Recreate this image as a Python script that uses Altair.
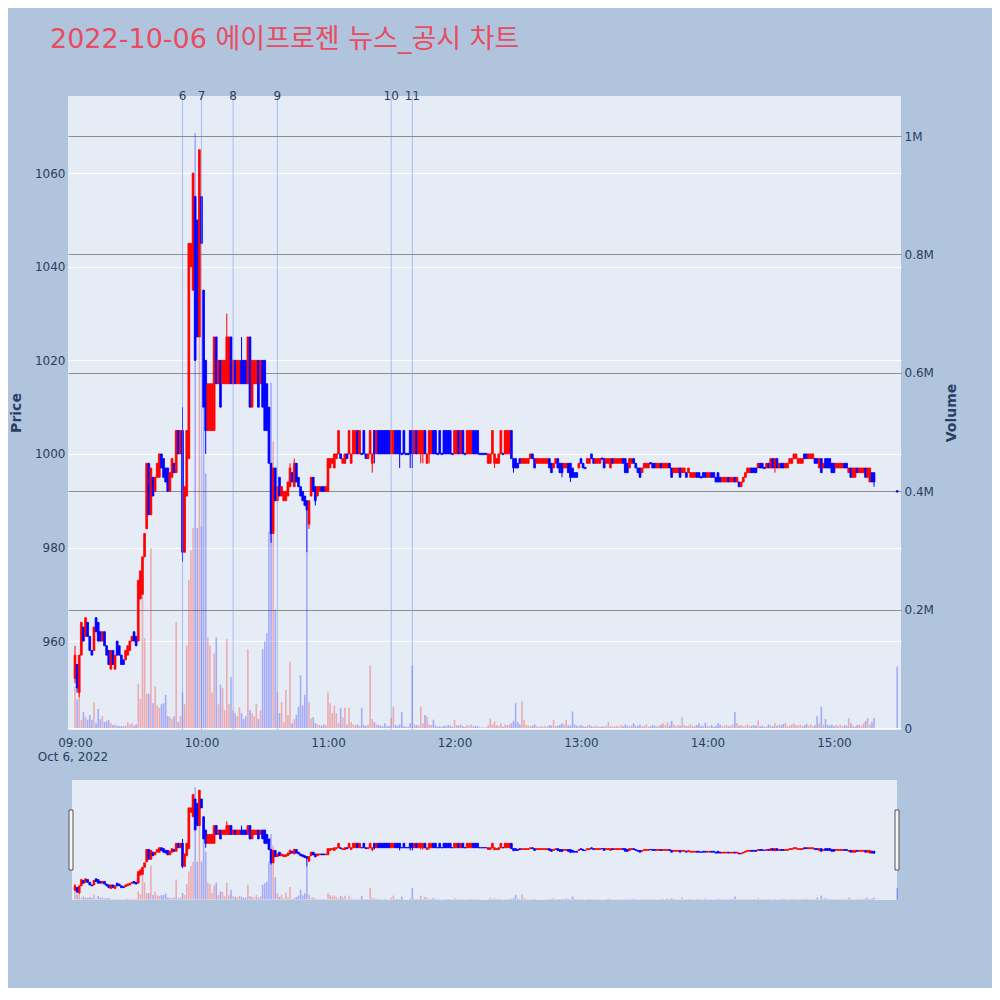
import altair as alt
import pandas as pd

title_text = "2022-10-06 에이프로젠 뉴스_공시 차트"

# minute offsets from 09:00 (15:30 closing auction at 390)
minutes = list(range(380)) + [390]

opens = [
    952, 955, 949, 957, 963, 961, 964, 961, 958, 958,
    965, 964, 962, 960, 962, 959, 958, 954, 958, 954,
    960, 959, 957, 956, 956, 957, 958, 960, 962, 961,
    960, 969, 970, 978, 984, 998, 987, 995, 992, 995,
    995, 1000, 999, 997, 997, 992, 995, 998, 996, 1005,
    1000, 1005, 979, 991, 999, 1040, 1035, 1055, 1050, 1025,
    1055, 1035, 1020, 1005, 1005, 1005, 1005, 1025, 1015, 1020,
    1015, 1015, 1015, 1015, 1025, 1015, 1020, 1015, 1015, 1020,
    1020, 1020, 1015, 1025, 1010, 1015, 1015, 1020, 1015, 1020,
    1020, 1015, 1010, 998, 983, 997, 990, 995, 991, 990,
    990, 991, 993, 996, 993, 998, 995, 993, 992, 991,
    990, 985, 991, 995, 993, 991, 992, 993, 993, 992,
    992, 997, 998, 997, 999, 1000, 1000, 998, 998, 1000,
    1000, 998, 1000, 1000, 1005, 1000, 1000, 1005, 1000, 999,
    1000, 998, 1005, 1000, 1005, 1005, 1005, 1005, 1005, 1005,
    1000, 1000, 1005, 1005, 1005, 1000, 1005, 1000, 1000, 1005,
    1005, 1000, 1005, 1000, 1000, 1000, 1005, 998, 1000, 1000,
    1005, 1005, 1000, 1005, 1000, 1005, 1005, 1005, 1005, 1000,
    1000, 1000, 1005, 1000, 1005, 1000, 1000, 1000, 1000, 1005,
    1005, 1005, 1000, 1000, 1000, 1000, 998, 998, 1000, 998,
    998, 998, 1000, 1000, 1000, 1000, 1000, 1005, 999, 999,
    998, 999, 998, 998, 998, 998, 999, 1000, 999, 998,
    998, 998, 998, 998, 998, 999, 998, 997, 998, 999,
    998, 998, 997, 997, 998, 998, 997, 996, 996, 997,
    999, 998, 997, 998, 998, 1000, 999, 998, 998, 998,
    999, 999, 998, 998, 997, 999, 998, 998, 998, 998,
    999, 999, 998, 997, 998, 999, 998, 997, 997, 996,
    997, 997, 997, 998, 998, 998, 997, 997, 998, 997,
    997, 997, 998, 997, 996, 996, 996, 997, 996, 996,
    996, 996, 995, 995, 995, 996, 996, 995, 996, 996,
    995, 995, 996, 996, 995, 996, 995, 994, 994, 994,
    995, 994, 994, 995, 994, 994, 993, 994, 995, 996,
    996, 997, 997, 997, 997, 998, 998, 997, 997, 998,
    997, 999, 997, 999, 997, 998, 998, 997, 997, 998,
    998, 999, 999, 998, 998, 998, 1000, 1000, 999, 999,
    999, 999, 999, 997, 999, 997, 999, 999, 999, 998,
    998, 997, 997, 997, 997, 998, 998, 996, 997, 995,
    995, 997, 996, 996, 996, 997, 995, 994, 996, 996,
    992,
]

closes = [
    957, 950, 957, 964, 960, 965, 961, 958, 957, 963,
    962, 960, 960, 962, 959, 957, 955, 958, 955, 957,
    957, 957, 955, 955, 958, 959, 960, 961, 960, 959,
    973, 975, 978, 983, 998, 987, 997, 991, 995, 998,
    1000, 997, 995, 994, 992, 996, 999, 996, 1005, 1000,
    1005, 979, 993, 1005, 1045, 1045, 1060, 1020, 1025, 1065,
    1045, 1010, 1005, 1015, 1015, 1015, 1025, 1015, 1020, 1010,
    1020, 1020, 1025, 1025, 1015, 1020, 1015, 1020, 1020, 1015,
    1015, 1015, 1025, 1010, 1020, 1020, 1020, 1010, 1020, 1010,
    1005, 1005, 998, 983, 997, 990, 993, 991, 993, 992,
    992, 994, 997, 994, 998, 994, 993, 991, 990, 989,
    988, 990, 995, 992, 990, 993, 993, 992, 992, 993,
    999, 999, 999, 1000, 1000, 1005, 999, 999, 1000, 999,
    1005, 1000, 1005, 1005, 1000, 1005, 1000, 1000, 999, 1000,
    1005, 1000, 1000, 1005, 1000, 1000, 1000, 1000, 1000, 1000,
    1005, 1005, 1000, 1000, 1000, 1000, 1000, 1000, 1000, 1000,
    1000, 1005, 1000, 1005, 1005, 1005, 1000, 1000, 1005, 1005,
    1000, 1000, 1000, 1000, 1000, 1000, 1000, 1000, 1000, 1000,
    1005, 1005, 1000, 1005, 1000, 1000, 1005, 1005, 1005, 1000,
    1000, 1000, 1000, 1000, 1000, 1000, 1000, 1000, 1005, 1000,
    999, 1000, 1005, 1000, 1005, 1005, 1005, 999, 997, 997,
    997, 998, 999, 999, 999, 999, 1000, 999, 997, 999,
    999, 999, 999, 999, 999, 997, 996, 998, 999, 997,
    996, 996, 998, 998, 996, 995, 995, 995, 995, 998,
    998, 997, 997, 999, 999, 999, 998, 999, 999, 999,
    999, 997, 999, 999, 999, 998, 999, 999, 999, 999,
    998, 996, 996, 999, 999, 998, 997, 996, 995, 997,
    998, 998, 998, 998, 997, 997, 998, 998, 997, 998,
    998, 998, 997, 995, 997, 997, 997, 995, 997, 997,
    995, 997, 996, 996, 996, 995, 995, 995, 995, 995,
    996, 996, 995, 995, 994, 994, 994, 995, 995, 995,
    994, 995, 995, 994, 995, 993, 994, 995, 996, 997,
    997, 996, 996, 996, 998, 997, 997, 997, 998, 997,
    999, 997, 999, 997, 998, 997, 997, 998, 998, 999,
    999, 1000, 1000, 999, 999, 999, 999, 999, 1000, 1000,
    1000, 998, 998, 999, 996, 998, 997, 997, 997, 996,
    996, 998, 998, 998, 998, 997, 997, 997, 995, 997,
    997, 996, 997, 997, 997, 995, 997, 997, 994, 994,
    992,
]

wick_high = {0: 959, 35: 998, 51: 1010, 59: 1065, 72: 1030, 79: 1025,
             102: 998, 104: 999, 198: 1005}
wick_low = {0: 951, 1: 949, 2: 948, 51: 977, 57: 1020, 62: 1000, 93: 981,
            110: 979, 111: 984, 114: 989, 141: 996, 142: 998, 154: 997,
            159: 997, 160: 997, 164: 998, 165: 998, 168: 998, 199: 997,
            208: 996, 231: 995, 235: 994, 305: 994, 315: 993, 316: 993,
            332: 996, 379: 993}

volumes_k = [
    70, 48, 60, 14, 27, 19, 14, 22, 14, 43,
    8, 32, 15, 20, 10, 12, 14, 8, 5, 6,
    4, 3, 3, 3, 4, 10, 6, 8, 4, 6,
    75, 49, 253, 152, 58, 58, 304, 42, 70, 38,
    34, 40, 42, 56, 20, 18, 15, 20, 179, 10,
    20, 60, 40, 139, 250, 300, 338, 1005, 338, 800,
    340, 656, 430, 153, 139, 60, 126, 153, 40, 73,
    67, 30, 150, 40, 86, 30, 25, 20, 35, 25,
    15, 20, 133, 30, 25, 20, 41, 15, 30, 133,
    146, 160, 331, 583, 484, 200, 60, 25, 44, 10,
    64, 22, 112, 8, 15, 22, 36, 89, 38, 56,
    298, 44, 16, 18, 8, 6, 5, 4, 6, 5,
    60, 42, 25, 38, 25, 8, 34, 18, 34, 6,
    34, 10, 6, 5, 6, 4, 34, 5, 4, 6,
    106, 15, 10, 6, 5, 4, 3, 8, 3, 4,
    17, 36, 5, 4, 6, 27, 3, 2, 2, 8,
    106, 6, 5, 4, 36, 8, 22, 19, 6, 5,
    14, 4, 2, 3, 2, 4, 3, 5, 4, 2,
    14, 5, 4, 6, 3, 2, 5, 4, 6, 3,
    4, 3, 1, 1, 1, 1, 5, 16, 6, 11,
    5, 4, 8, 2, 6, 5, 6, 8, 12, 42,
    10, 6, 45, 14, 5, 4, 3, 4, 6, 3,
    2, 3, 2, 4, 3, 5, 4, 14, 3, 4,
    5, 8, 6, 14, 5, 4, 28, 6, 4, 3,
    5, 3, 2, 4, 6, 3, 2, 4, 3, 2,
    3, 2, 4, 10, 3, 2, 3, 4, 2, 5,
    3, 6, 4, 3, 5, 8, 3, 4, 6, 3,
    4, 6, 2, 3, 5, 4, 3, 4, 6, 8,
    5, 10, 4, 12, 6, 3, 5, 4, 18, 5,
    3, 4, 6, 3, 4, 5, 8, 4, 3, 9,
    4, 3, 5, 2, 4, 8, 6, 3, 4, 5,
    3, 4, 6, 27, 8, 4, 5, 3, 4, 6,
    3, 4, 5, 4, 13, 3, 4, 2, 3, 6,
    4, 3, 8, 4, 6, 5, 7, 9, 3, 4,
    6, 8, 5, 4, 6, 3, 5, 7, 4, 6,
    3, 5, 20, 8, 36, 6, 15, 5, 4, 6,
    3, 5, 4, 6, 3, 5, 4, 17, 8, 4,
    3, 5, 6, 4, 8, 12, 17, 6, 10, 17,
    104,
]

news_minutes = [51, 60, 75, 96, 150, 160]
news_labels = ["6", "7", "8", "9", "10", "11"]
price_ticks = [960, 980, 1000, 1020, 1040, 1060]
volume_ticks = [0, 200000, 400000, 600000, 800000, 1000000]
hour_ticks = [0, 60, 120, 180, 240, 300, 360]

assert len(opens) == len(minutes), len(opens)
assert len(closes) == len(minutes), len(closes)
assert len(volumes_k) == len(minutes), len(volumes_k)

rows = []
for i, m in enumerate(minutes):
    o, c = opens[i], closes[i]
    top, bot = max(o, c), min(o, c)
    hi = max(wick_high.get(m, top), top)
    lo = min(wick_low.get(m, bot), bot)
    if top == bot:
        top += 0.15
        bot -= 0.15
    rows.append(dict(m=m, o=o, c=c, h=hi, l=lo, top=top, bot=bot,
                     v=volumes_k[i] * 1000, d="up" if c > o else "down"))
df = pd.DataFrame(rows)
news_df = pd.DataFrame({"m": news_minutes, "label": news_labels})

W, H = 833, 634
FONT = "DejaVu Sans"
TXT = "#2a3f5f"
XS = alt.Scale(domain=[-3.32, 391.8], nice=False, zero=False, padding=0)
PRICE_DOM = [941, 1076.5]
VOL_DOM = [-3378, 1067568]
SL = [804, 684]


def price_scale(slider=False):
    if slider:
        return alt.Scale(domain=PRICE_DOM, nice=False, zero=False, range=SL)
    return alt.Scale(domain=PRICE_DOM, nice=False, zero=False)


def vol_scale(slider=False):
    if slider:
        return alt.Scale(domain=VOL_DOM, nice=False, zero=False, range=SL)
    return alt.Scale(domain=VOL_DOM, nice=False, zero=False)


CANDLE_SCALE = alt.Scale(domain=["up", "down"], range=["#FF0000", "#0000FF"])
col = alt.Color("d:N", scale=CANDLE_SCALE, legend=None)
stk = alt.Stroke("d:N", scale=CANDLE_SCALE, legend=None)

x_axis = alt.Axis(values=hour_ticks, grid=False, title=None, domain=False, ticks=False,
                  labelPadding=7,
                  labelExpr="(datum.value / 60 + 9 < 10 ? '0' : '') + (datum.value / 60 + 9) + ':00'")
price_axis = alt.Axis(orient="left", values=price_ticks, grid=True, gridColor="white", format="d",
                      gridWidth=1, title=None, domain=False, ticks=False, labelPadding=3)
vol_axis = alt.Axis(orient="right", values=volume_ticks, grid=True,
                    gridColor={"condition": {"test": "datum.value === 0", "value": "#ffffff"},
                               "value": "#8c8c8c"},
                    gridWidth=1, title=None, domain=False, ticks=False, labelPadding=3,
                    labelExpr="datum.value === 0 ? '0' : format(datum.value / 1000000, '~g') + 'M'")


def X():
    return alt.X("m:Q", scale=XS, axis=x_axis)


base = alt.Chart(df)

slider_bg = alt.Chart(pd.DataFrame({"a": [0]})).mark_rect(color="#E5ECF6").encode(
    x=alt.value(4), x2=alt.value(829), y=alt.value(684), y2=alt.value(804))


def vol_layer(slider):
    return base.mark_bar(size=1.6, opacity=0.28).encode(
        x=X(),
        y=alt.Y("v:Q", scale=vol_scale(slider), axis=None if slider else vol_axis),
        y2=alt.datum(0),
        color=col)


def wick_layer(slider):
    return base.mark_rule(strokeWidth=1).encode(
        x=X(),
        y=alt.Y("l:Q", scale=price_scale(slider), axis=None),
        y2="h:Q",
        color=col)


def body_layer(slider):
    return base.mark_bar(size=1.8, strokeWidth=0.8).encode(
        x=X(),
        y=alt.Y("bot:Q", scale=price_scale(slider), axis=None if slider else price_axis),
        y2="top:Q",
        color=col,
        stroke=stk)


news_rules = alt.Chart(news_df).mark_rule(color="#6f8ff0", opacity=0.5, strokeWidth=1).encode(
    x=X(), y=alt.value(0), y2=alt.value(H))
news_text = alt.Chart(news_df).mark_text(font=FONT, fontSize=12, color=TXT, baseline="middle").encode(
    x=X(), y=alt.value(0), text="label:N")

one = pd.DataFrame({"a": [0]})
title = alt.Chart(one).mark_text(text=title_text, font="DejaVu Sans, Noto Sans CJK KR",
                                 fontSize=27, color="#E84C60", align="left",
                                 baseline="middle").encode(x=alt.value(-18), y=alt.value(-56))
price_title = alt.Chart(one).mark_text(text="Price", font=FONT, fontSize=14, fontWeight="bold",
                                       color=TXT, angle=270, baseline="middle").encode(
    x=alt.value(-51), y=alt.value(317))
vol_title = alt.Chart(one).mark_text(text="Volume", font=FONT, fontSize=14, fontWeight="bold",
                                     color=TXT, angle=270, baseline="middle").encode(
    x=alt.value(884), y=alt.value(317))
date_text = alt.Chart(one).mark_text(text="Oct 6, 2022", font=FONT, fontSize=12, color=TXT,
                                     baseline="middle").encode(x=alt.value(5), y=alt.value(661))
handle_l = alt.Chart(one).mark_rect(fill="#f4f4f4", stroke="#555555", strokeWidth=1).encode(
    x=alt.value(1), x2=alt.value(5), y=alt.value(714), y2=alt.value(774))
handle_r = alt.Chart(one).mark_rect(fill="#f4f4f4", stroke="#555555", strokeWidth=1).encode(
    x=alt.value(827), x2=alt.value(831), y=alt.value(714), y2=alt.value(774))

chart = alt.layer(
    slider_bg,
    vol_layer(False), vol_layer(True),
    wick_layer(False), body_layer(False),
    wick_layer(True), body_layer(True),
    news_rules, news_text,
    title, price_title, vol_title, date_text, handle_l, handle_r,
).resolve_scale(y="independent").properties(
    width=W, height=H,
    autosize=alt.AutoSizeParams(type="none"),
    padding={"left": 60, "top": 88, "right": 91, "bottom": 258},
    background="#B0C4DE",
).configure_view(fill="#E5ECF6", stroke=None).configure_axis(
    labelFont=FONT, labelFontSize=12, labelColor=TXT)

chart.save("out.html", embed_options={"renderer": "svg", "actions": False})
